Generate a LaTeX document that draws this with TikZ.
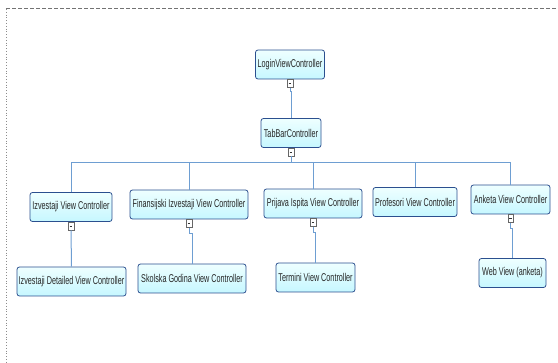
\documentclass[tikz,border=0pt]{standalone}
\usepackage{fontspec}
\setmainfont[FakeStretch=0.64]{Liberation Sans}
\begin{document}
\begin{tikzpicture}[x=1pt,y=-1pt,
  box/.style={draw=boxborder, line width=0.8pt, rounded corners=2.5pt,
    top color=boxtop, bottom color=boxbot, inner sep=0pt,
    minimum height=29pt, font=\fontsize{11.3}{13}\selectfont, text=black!85},
  expander/.style={draw=black!60, fill=white, line width=0.5pt, minimum width=5.5pt, minimum height=8pt, inner sep=0pt,
    path picture={\draw[black!80, line width=0.7pt] ([xshift=-1.3pt]path picture bounding box.center) -- ([xshift=1.3pt]path picture bounding box.center);}},
  conn/.style={draw=linecol, line width=1pt},
]
\definecolor{boxborder}{HTML}{2B4F8F}
\definecolor{boxtop}{HTML}{EEFFFF}
\definecolor{boxbot}{HTML}{C6F7FF}
\definecolor{linecol}{HTML}{6E9ED2}
\useasboundingbox (0,0) rectangle (558,363);
% frame
\draw[black!55, dashed, dash pattern=on 4pt off 2pt, line width=0.8pt] (6,8.5) -- (558,8.5);
\draw[black!45, dotted, line width=0.8pt] (6,9) -- (6,363);

% nodes
\node[box, minimum width=69pt] (login) at (290,64.5) {LoginViewController};
\node[box, minimum width=60pt] (tab) at (291,133) {TabBarController};

\node[box, minimum width=82pt] (izv) at (71,207) {Izvestaji View Controller};
\node[box, minimum width=118pt] (fin) at (189,204.5) {Finansijski Izvestaji View Controller};
\node[box, minimum width=98pt] (pri) at (313,203.5) {Prijava Ispita View Controller};
\node[box, minimum width=84pt] (pro) at (415,202) {Profesori View Controller};
\node[box, minimum width=79pt] (ank) at (510.5,199.5) {Anketa View Controller};

\node[box, minimum width=109pt] (izd) at (71.5,281.5) {Izvestaji Detailed View Controller};
\node[box, minimum width=108pt] (sko) at (192,278.5) {Skolska Godina View Controller};
\node[box, minimum width=79pt] (ter) at (315.5,277.5) {Termini View Controller};
\node[box, minimum width=67pt] (web) at (512.5,273) {Web View (anketa)};

% expanders
\node[expander, anchor=north] (e1) at (login.south) {};
\node[expander, anchor=north] (e2) at (tab.south) {};
\node[expander, anchor=north] (e3) at (izv.south) {};
\node[expander, anchor=north] (e4) at (fin.south) {};
\node[expander, anchor=north] (e5) at (pri.south) {};
\node[expander, anchor=north] (e6) at (ank.south) {};

% connectors
\coordinate (b1) at ([yshift=-4pt]e1.south);
\draw[conn] (e1.south) -- (b1) -| (tab.north);
\coordinate (bus) at (291,162.5);
\draw[conn] (e2.south) -- (e2.south |- bus);
\draw[conn] (izv.north) |- (bus) -| (ank.north);
\draw[conn] (fin.north) -- (fin.north |- bus);
\draw[conn] (pri.north) -- (pri.north |- bus);
\draw[conn] (pro.north) -- (pro.north |- bus);

\draw[conn] (e3.south) -- (izd.north);
\coordinate (b4) at ([yshift=-6pt]e4.south);
\draw[conn] (e4.south) -- (b4) -| (sko.north);
\coordinate (b5) at ([yshift=-6pt]e5.south);
\draw[conn] (e5.south) -- (b5) -| (ter.north);
\coordinate (b6) at ([yshift=-6pt]e6.south);
\draw[conn] (e6.south) -- (b6) -| (web.north);
\end{tikzpicture}
\end{document}
